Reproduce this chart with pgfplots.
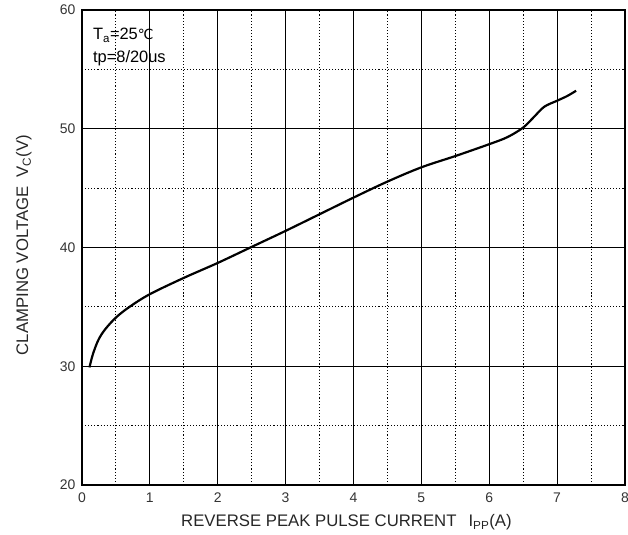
\documentclass[border=0pt]{standalone}
\usepackage{fontspec}
\setmainfont{Liberation Sans}
\newfontfamily\dejavu{DejaVu Sans}
\usepackage{pgfplots}
\pgfplotsset{compat=1.18}

\begin{document}
\begin{tikzpicture}
\begin{axis}[
    scale only axis,
    width=543bp, height=475bp,
    xmin=0, xmax=8, ymin=20, ymax=60,
    xtick={0,1,...,8}, ytick={20,30,...,60},
    minor xtick={0.5,1.5,...,7.5}, minor ytick={25,35,45,55},
    grid=both,
    major grid style={black, line width=1.1pt},
    minor grid style={black, line width=1.1pt, dotted},
    axis line style={black, line width=1.3pt},
    major tick length=0pt, minor tick length=0pt,
    tick label style={font=\fontsize{14}{16}\selectfont, text=black!80},
    xticklabel style={yshift=-4bp},
    yticklabel style={xshift=-3bp},
    /pgf/number format/assume math mode=true,
    xlabel={REVERSE PEAK PULSE CURRENT\hspace{12bp}I\textsubscript{PP}(A)},
    ylabel={CLAMPING VOLTAGE\hspace{9bp}V\textsubscript{C}(V)},
    label style={font=\fontsize{16.8}{19}\selectfont, text=black!85},
    xlabel style={at={(axis description cs:0.487,-0.0878)}, anchor=base},
    ylabel style={at={(axis description cs:-0.099,0.505)}, anchor=base},
    clip=true,
]
\addplot[black, line width=2.2pt, smooth, tension=0.55] coordinates {
(0.11,29.9) (0.16,31.0) (0.24,32.2) (0.34,33.1) (0.5,34.1) (0.7,35.0)
(1.0,36.07) (1.5,37.44) (2.0,38.7) (2.5,40.05) (3.0,41.4) (3.5,42.8)
(4.0,44.2) (4.5,45.55) (5.0,46.75) (5.5,47.7) (6.0,48.7) (6.27,49.3)
(6.5,50.1) (6.66,51.0) (6.81,51.85) (7.0,52.36) (7.15,52.76) (7.28,53.2)
};
\node[anchor=north west, align=left, font=\fontsize{16.5}{23}\selectfont, inner sep=0pt]
  at (rel axis cs:0.02,0.962)
  {T\textsubscript{a}=25{\dejavu\fontsize{14}{16}\selectfont ℃}\\tp=8/20us};
\end{axis}
\pgfresetboundingbox
\path[use as bounding box] ([xshift=-82bp,yshift=-50bp]current axis.south west)
  rectangle ([xshift=3bp,yshift=10bp]current axis.north east);
\end{tikzpicture}
\end{document}
